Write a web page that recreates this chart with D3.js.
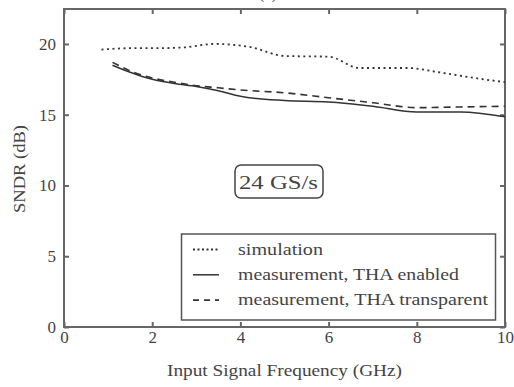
<!DOCTYPE html>
<html><head><meta charset="utf-8">
<script src="https://cdn.jsdelivr.net/npm/d3@7"></script>
<style>body{margin:0;background:#fff}svg{display:block}text{font-family:"Liberation Serif",serif;fill:#444}</style>
</head><body>
<script>
const simFreq = [0.85, 1.5, 2.0, 2.7, 3.4, 4.2, 5.0, 6.0, 6.7, 7.8, 8.5, 9.3, 10.0];
const simSNDR = [19.6, 19.7, 19.7, 19.75, 20.0, 19.8, 19.15, 19.1, 18.3, 18.3, 18.0, 17.6, 17.3];
const measFreq = [1.1, 1.5, 2, 2.5, 3, 3.5, 4, 5, 6, 7, 8, 9, 10];
const enabledSNDR = [18.5, 18.0, 17.5, 17.2, 17.0, 16.7, 16.3, 16.0, 15.9, 15.6, 15.2, 15.2, 14.85];
const transparentSNDR = [18.7, 18.1, 17.6, 17.3, 17.05, 16.9, 16.75, 16.55, 16.2, 15.85, 15.5, 15.55, 15.6];
const xTicks = [0, 2, 4, 6, 8, 10];
const yTicks = [0, 5, 10, 15, 20];
const legendLabels = ["simulation", "measurement, THA enabled", "measurement, THA transparent"];
const annotation = "24 GS/s";

const W = 514, H = 387;
const m = {l: 64, r: 9, t: 9, b: 60};
const svg = d3.select("body").append("svg").attr("width", W).attr("height", H);
const x = d3.scaleLinear().domain([0, 10]).range([m.l, W - m.r]);
const y = d3.scaleLinear().domain([0, 22.47]).range([H - m.b, m.t]);
const axisCol = "#666";

function fit(sel, w) {
  sel.attr("textLength", w).attr("lengthAdjust", "spacingAndGlyphs");
}

svg.append("text").attr("x", 268).attr("y", -1).attr("text-anchor", "middle").style("font-size", "15px").text("(b)");

const tl = 5;
const g = svg.append("g");
const styleTicks = a => { a.select(".domain").remove(); a.selectAll("line").attr("stroke", axisCol).attr("stroke-width", 2); a.selectAll("text").style("font-size", "17px").style("font-family", "Liberation Serif").attr("fill", "#555"); };
g.append("g").attr("transform", `translate(0,${y(0)})`)
  .call(d3.axisBottom(x).tickValues(xTicks).tickSizeInner(-tl).tickSizeOuter(0).tickPadding(4)).call(styleTicks);
g.append("g").attr("transform", `translate(0,${m.t})`)
  .call(d3.axisTop(x).tickValues(xTicks).tickSizeInner(-tl).tickSizeOuter(0).tickFormat("")).call(styleTicks);
g.append("g").attr("transform", `translate(${m.l},0)`)
  .call(d3.axisLeft(y).tickValues(yTicks).tickSizeInner(-tl).tickSizeOuter(0).tickPadding(8)).call(styleTicks);
g.append("g").attr("transform", `translate(${W - m.r},0)`)
  .call(d3.axisRight(y).tickValues(yTicks).tickSizeInner(-tl).tickSizeOuter(0).tickFormat("")).call(styleTicks);

svg.append("rect").attr("x", x(0)).attr("y", y(22.47)).attr("width", x(10) - x(0)).attr("height", y(0) - y(22.47))
  .attr("fill", "none").attr("stroke", axisCol).attr("stroke-width", 2);

const line = d3.line().x(d => x(d[0])).y(d => y(d[1])).curve(d3.curveMonotoneX);
const series = [
  {f: simFreq, v: simSNDR, dash: "2,3.5", w: 1.8},
  {f: measFreq, v: enabledSNDR, dash: null, w: 1.5},
  {f: measFreq, v: transparentSNDR, dash: "7,5", w: 1.6}
];
series.forEach(s => {
  svg.append("path").datum(d3.zip(s.f, s.v)).attr("d", line).attr("fill", "none")
    .attr("stroke", "#333").attr("stroke-width", s.w).attr("stroke-dasharray", s.dash);
});

// legend
const legendW = [85, 221, 250];
const lg = svg.append("g");
lg.append("rect").attr("x", 181.5).attr("y", 234).attr("width", 314).attr("height", 86)
  .attr("fill", "#fff").attr("stroke", "#555").attr("stroke-width", 1.5);
legendLabels.forEach((t, i) => {
  const yy = 249.5 + i * 25.3;
  lg.append("line").attr("x1", 193).attr("x2", 219).attr("y1", yy).attr("y2", yy)
    .attr("stroke", "#333").attr("stroke-width", series[i].w).attr("stroke-dasharray", i === 0 ? "2,2.5" : (i === 2 ? "6,5" : null));
  lg.append("text").attr("x", 238).attr("y", yy + 5).style("font-size", "17px").text(t).call(fit, legendW[i]);
});

// annotation
svg.append("rect").attr("x", 235).attr("y", 165).attr("width", 88).attr("height", 33).attr("rx", 6)
  .attr("fill", "#fff").attr("stroke", "#444").attr("stroke-width", 1.5);
svg.append("text").attr("x", 239).attr("y", 189).style("font-size", "19px").text(annotation).call(fit, 79);

svg.append("text").attr("x", 167).attr("y", 376).style("font-size", "17px").text("Input Signal Frequency (GHz)").call(fit, 235);
svg.append("text").attr("transform", `translate(25,213) rotate(-90)`).style("font-size", "17px").text("SNDR (dB)").call(fit, 88);
</script>
</body></html>
